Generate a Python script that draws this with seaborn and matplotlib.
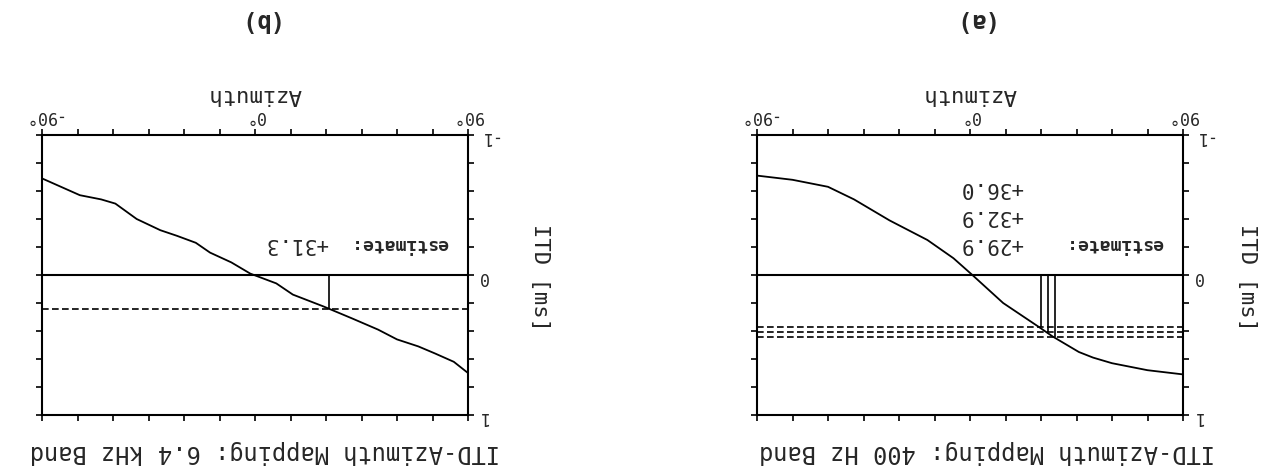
import matplotlib
matplotlib.use("Agg")
import matplotlib.pyplot as plt
import seaborn as sns
import pandas as pd

# 6.4 kHz band (panel b)
az_64 = [-90, -74, -65, -59, -50, -40, -33, -25, -19, -10, -2, 9, 16, 29, 41, 52, 60, 69, 76, 84, 90]
itd_64 = [-0.69, -0.57, -0.54, -0.51, -0.40, -0.32, -0.28, -0.23, -0.16, -0.09, -0.01,
          0.06, 0.14, 0.225, 0.31, 0.39, 0.46, 0.51, 0.56, 0.62, 0.70]
est_az_64 = [31.3]
est_itd_64 = [0.24]

# 400 Hz band (panel a)
az_400 = [-90, -75, -60, -49, -34, -18, -7, 1, 14, 29, 35, 46, 52, 60, 75, 90]
itd_400 = [-0.71, -0.68, -0.63, -0.54, -0.39, -0.25, -0.12, 0.0, 0.20, 0.37, 0.44, 0.55,
           0.59, 0.63, 0.68, 0.71]
est_az_400 = [29.9, 32.9, 36.0]
est_itd_400 = [0.37, 0.41, 0.44]

x_ticks = list(range(-90, 91, 15))
x_labels = ["-90°" if t == -90 else "0°" if t == 0 else "90°" if t == 90 else "" for t in x_ticks]
y_ticks = [round(-1 + 0.2 * i, 1) for i in range(11)]
y_labels = ["-1" if t == -1 else "0" if t == 0 else "1" if t == 1 else "" for t in y_ticks]

sns.set_style("white")
plt.rcParams['font.family'] = ['DejaVu Sans Mono', 'DejaVu Sans']

fig = plt.figure(figsize=(12.62, 4.70), dpi=100)
W, H = 1262, 470


def add_panel(x0, title, letter, az, itd, est_az, est_itd, ylab_x):
    # the scanned page is upside down, so everything is drawn turned by 180 degrees
    ax = fig.add_axes([x0 / W, (H - 415) / H, 426 / W, 280 / H])
    df = pd.DataFrame({"az": az, "itd": itd})
    sns.lineplot(data=df, x="az", y="itd", ax=ax, color="black", lw=1.3)
    ax.axhline(0, color="black", lw=1.5)
    for a, v in zip(est_az, est_itd):
        ax.axhline(v, color="black", lw=1.2, ls=(0, (4, 2)))
        ax.vlines(a, 0, v, color="black", lw=1.2)

    ax.set_xlim(-90, 90)
    ax.set_ylim(1, -1)
    ax.set_xticks(x_ticks)
    ax.set_xticklabels(x_labels)
    ax.set_yticks(y_ticks)
    ax.set_yticklabels(y_labels)
    ax.xaxis.tick_top()
    ax.yaxis.tick_right()
    ax.tick_params(axis="x", top=True, bottom=True, labeltop=True, labelbottom=False)
    ax.tick_params(axis="y", left=True, right=True, labelright=True, labelleft=False)
    ax.tick_params(direction="out", length=4, width=1.2, color="black",
                   labelrotation=180, labelsize=12, pad=3)
    for s in ax.spines.values():
        s.set_color("black")
        s.set_linewidth(1.5)

    ax.xaxis.set_label_position("top")
    ax.set_xlabel("Azimuth", rotation=180, fontsize=16, va="center")
    ax.xaxis.set_label_coords(0.5, (415 - 95) / 280)
    ax.yaxis.set_label_position("right")
    ax.set_ylabel("ITD [ms]", rotation=270, fontsize=16, va="center", ha="center")
    ax.yaxis.set_label_coords((ylab_x - x0) / 426, 0.49)

    ax.text((500 - 42) / 426, (415 - 452) / 280, title, transform=ax.transAxes,
            rotation=180, ha="right", va="center", fontsize=17)
    ax.text(0.5, (415 - 20) / 280, letter, transform=ax.transAxes,
            rotation=180, ha="center", va="center", fontsize=17, fontweight="bold")

    ax.text(81.5, -0.22, "estimate:", rotation=180, ha="right", va="center",
            fontsize=13, fontweight="bold")
    ys = [-0.22, -0.42, -0.62]
    for a, yv in zip(est_az, ys):
        xv = 30.8 if len(est_az) == 1 else 22.4
        ax.text(xv, yv, f"+{a:.1f}", rotation=180, ha="right", va="center", fontsize=15)
    return ax


add_panel(42, "ITD-Azimuth Mapping: 6.4 kHz Band", "(b)", az_64, itd_64, est_az_64, est_itd_64, 540)
add_panel(757, "ITD-Azimuth Mapping: 400 Hz Band", "(a)", az_400, itd_400, est_az_400, est_itd_400, 1247)

fig.savefig("out.png", dpi=100)
